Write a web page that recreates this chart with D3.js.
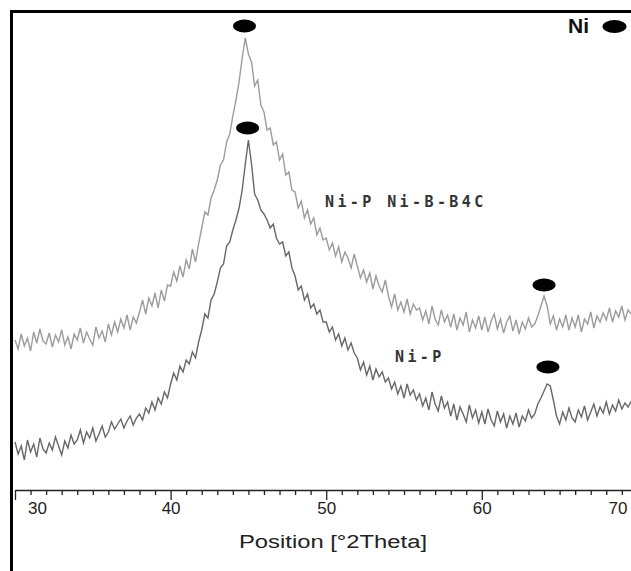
<!DOCTYPE html>
<html>
<head>
<meta charset="utf-8">
<script src="https://cdn.jsdelivr.net/npm/d3@7"></script>
<style>
  body { margin: 0; background: #fff; }
  svg { display: block; }
</style>
</head>
<body>
<svg id="chart" width="631" height="571"></svg>
<script>
// scan settings (degrees 2theta)
var thetaStart = 30.0,
  thetaStep = 0.2;

var seriesNames = ["Ni-P Ni-B-B4C", "Ni-P"];

// intensity, arbitrary units
var nipB4c = [
  150, 141, 156, 144, 152, 139, 158, 147, 161, 149,
  146, 157, 143, 155, 148, 160, 145, 153, 141, 156,
  150, 162, 147, 158, 151, 145, 163, 152, 159, 148,
  166, 155, 168, 158, 171, 162, 175, 160, 173, 167,
  178, 190, 176, 192, 184, 197, 182, 200, 189, 205,
  204, 218, 209, 224, 213, 230, 221, 241, 228, 246,
  262, 278, 275, 292, 300, 310, 325, 330, 348, 356,
  374, 390, 408, 432, 452, 436, 428, 404, 410, 385,
  378, 360, 362, 345, 348, 330, 336, 315, 318, 300,
  298, 282, 289, 272, 280, 266, 272, 255, 262, 250,
  252, 240, 247, 234, 243, 228, 238, 232, 222, 236,
  224, 212, 220, 208, 217, 201, 214, 204, 198, 210,
  194, 183, 196, 180, 188, 178, 191, 176, 186, 180,
  182, 170, 179, 166, 184, 171, 165, 180, 168, 175,
  163, 176, 160, 172, 165, 178, 158, 170, 162, 174,
  160, 173, 158, 169, 176, 161, 171, 157, 168, 174,
  159, 170, 156, 168, 161, 172, 163, 166, 174, 184,
  194, 184, 166, 174, 160, 171, 163, 175, 160, 172,
  163, 175, 158, 171, 166, 178, 162, 174, 168, 177,
  170, 182, 168, 179, 173, 184, 170, 180, 176
];

var nip = [
  48, 36, 44, 30, 50, 38, 46, 33, 52, 41,
  37, 47, 40, 53, 44, 35, 49, 42, 55, 46,
  50, 60, 47, 58, 52, 62, 49, 56, 64, 53,
  58, 68, 61, 66, 71, 62, 69, 74, 65, 72,
  76, 70, 82, 77, 88, 80, 92, 86, 98, 92,
  106, 117, 110, 124, 118, 130, 126, 138, 132, 148,
  160, 176, 172, 190, 196, 208, 222, 226, 244, 248,
  260, 270, 282, 300, 326, 350, 326, 296, 290, 280,
  276, 270, 262, 266, 252, 246, 248, 234, 238, 222,
  214, 200, 204, 190, 196, 182, 186, 176, 180, 168,
  168, 158, 163, 150, 156, 144, 152, 140, 147, 137,
  132, 120, 128, 115, 124, 110, 121, 113, 118, 108,
  112, 101, 108, 96, 104, 92, 106, 95, 100, 90,
  96, 84, 92, 80, 98, 86, 79, 94, 82, 88,
  74, 86, 70, 83, 76, 68, 85, 72, 80, 67,
  78, 66, 81, 70, 64, 79, 68, 76, 62, 74,
  66, 77, 63, 74, 69, 80, 72, 76, 86, 92,
  99, 106, 104, 90, 74, 66, 78, 70, 82, 72,
  68, 80, 73, 84, 70, 78, 86, 74, 83, 77,
  88, 76, 85, 79, 90, 81, 87, 83, 89
];

// Ni reflections marked with dots
var peakTheta = [44.75, 44.95, 64.0, 64.25],
  peakLevel = [464, 362, 205, 123];

var xTicks = d3.range(30, 71, 1);

var svg = d3.select("#chart"),
  width = +svg.attr("width"),
  height = +svg.attr("height"),
  axisY = 490;

var x = d3.scaleLinear()
  .domain([30, 70])
  .range([15, 637.4]);

var y = d3.scaleLinear()
  .domain([0, 480])
  .range([axisY, 10]);

var line = d3.line()
  .x(function (d, i) { return x(thetaStart + i * thetaStep); })
  .y(function (d) { return y(d); });

svg.append("defs").append("clipPath")
  .attr("id", "clip")
  .append("rect")
  .attr("x", 13)
  .attr("y", 13)
  .attr("width", width - 13)
  .attr("height", axisY - 13);

var plot = svg.append("g").attr("clip-path", "url(#clip)");

plot.append("path")
  .datum(nipB4c)
  .attr("d", line)
  .attr("fill", "none")
  .attr("stroke", "#9c9c9c")
  .attr("stroke-width", 1.4);

plot.append("path")
  .datum(nip)
  .attr("d", line)
  .attr("fill", "none")
  .attr("stroke", "#686868")
  .attr("stroke-width", 1.4);

// peak dots
svg.selectAll(".peak")
  .data(peakTheta)
  .enter().append("ellipse")
  .attr("class", "peak")
  .attr("cx", function (d) { return x(d); })
  .attr("cy", function (d, i) { return y(peakLevel[i]); })
  .attr("rx", 11.5)
  .attr("ry", 6.5)
  .attr("fill", "#000");

// series labels
svg.append("text")
  .attr("x", 325)
  .attr("y", 207)
  .attr("font-family", "DejaVu Sans Mono")
  .attr("font-size", 15)
  .attr("font-weight", "bold")
  .attr("letter-spacing", 3.4)
  .attr("fill", "#333")
  .text(seriesNames[0]);

svg.append("text")
  .attr("x", 395)
  .attr("y", 362)
  .attr("font-family", "DejaVu Sans Mono")
  .attr("font-size", 15)
  .attr("font-weight", "bold")
  .attr("letter-spacing", 3.4)
  .attr("fill", "#333")
  .text(seriesNames[1]);

// legend
svg.append("text")
  .attr("x", 568)
  .attr("y", 33)
  .attr("font-family", "Liberation Sans, Arial, sans-serif")
  .attr("font-size", 21)
  .attr("font-weight", "bold")
  .attr("fill", "#111")
  .text("Ni");

svg.append("ellipse")
  .attr("cx", 614.5)
  .attr("cy", 26.5)
  .attr("rx", 12)
  .attr("ry", 6.5)
  .attr("fill", "#000");

// x axis
var xAxis = svg.append("g")
  .attr("class", "axis axis--x")
  .attr("transform", "translate(0," + axisY + ")")
  .call(d3.axisBottom(x)
    .tickValues(xTicks)
    .tickSize(5)
    .tickSizeOuter(0)
    .tickFormat(function (d) { return d % 10 === 0 ? d : ""; }));

xAxis.select(".domain")
  .attr("stroke", "#222")
  .attr("stroke-width", 1.6);

xAxis.selectAll(".tick line")
  .attr("stroke", "#222")
  .attr("stroke-width", 1.3)
  .attr("y2", function (d) { return d % 10 === 0 ? 10 : 5; });

xAxis.selectAll(".tick text")
  .attr("y", 24)
  .attr("dy", 0)
  .attr("font-family", "Liberation Sans, Arial, sans-serif")
  .attr("font-size", 17)
  .attr("fill", "#222")
  .attr("dx", function (d) { return d === 30 ? 22 : d === 70 ? -20 : 0; });

svg.append("text")
  .attr("x", 333)
  .attr("y", 548)
  .attr("text-anchor", "middle")
  .attr("font-family", "Liberation Sans, Arial, sans-serif")
  .attr("font-size", 18)
  .attr("textLength", 188)
  .attr("lengthAdjust", "spacingAndGlyphs")
  .attr("fill", "#222")
  .text("Position [°2Theta]");

// frame (left and top only)
svg.append("line")
  .attr("x1", 11.5).attr("x2", 11.5)
  .attr("y1", 10).attr("y2", height)
  .attr("stroke", "#000")
  .attr("stroke-width", 3);

svg.append("line")
  .attr("x1", 10).attr("x2", width)
  .attr("y1", 11.5).attr("y2", 11.5)
  .attr("stroke", "#000")
  .attr("stroke-width", 3);
</script>
</body>
</html>
